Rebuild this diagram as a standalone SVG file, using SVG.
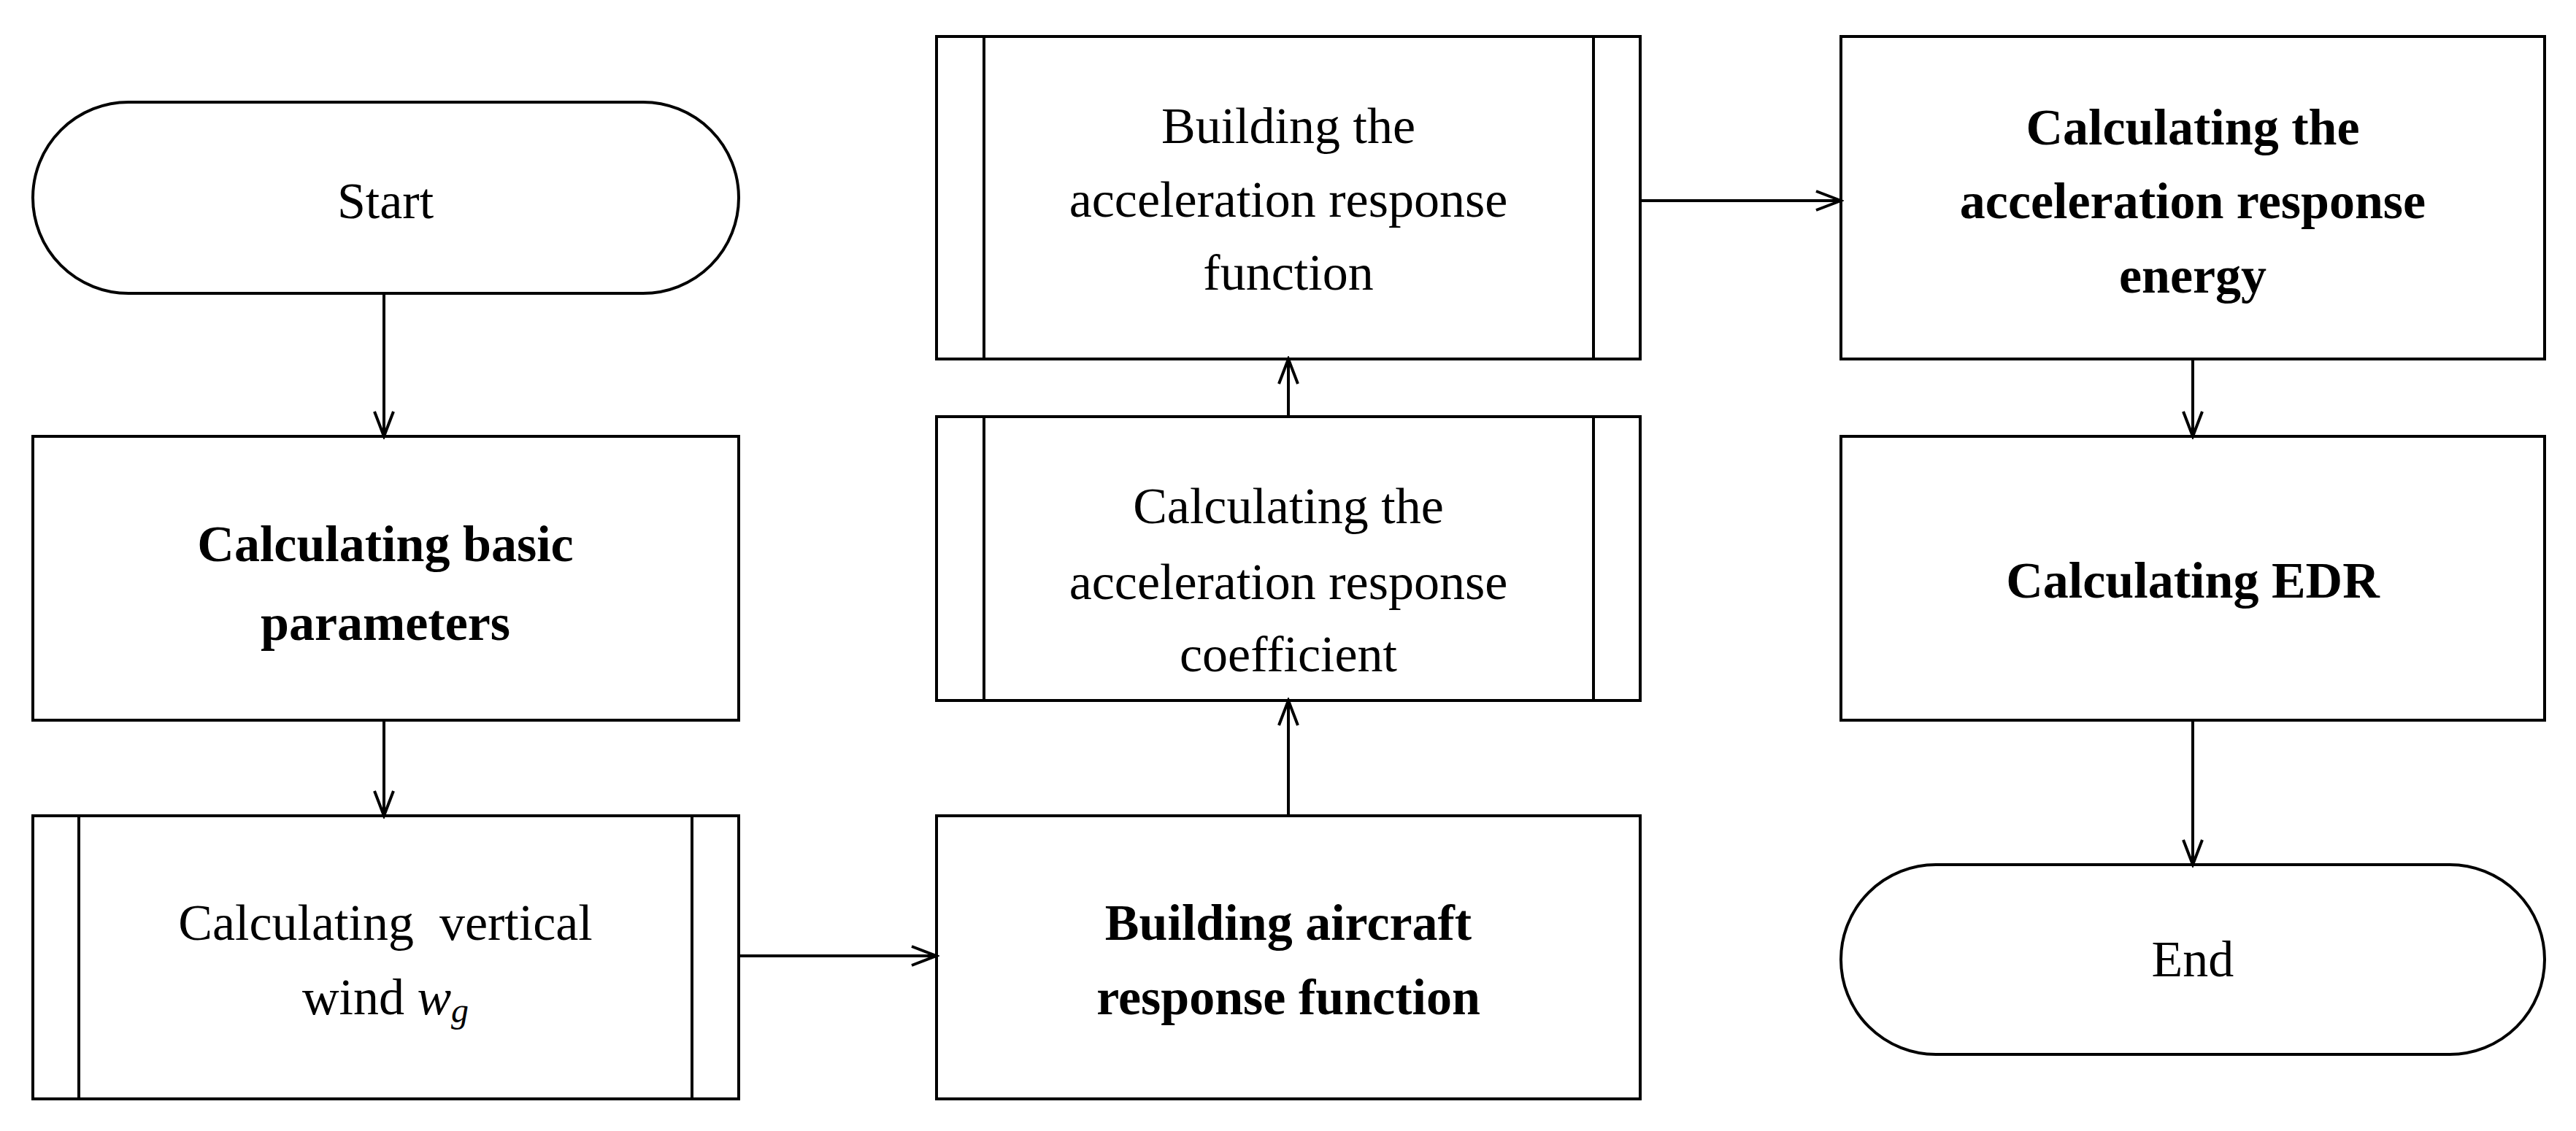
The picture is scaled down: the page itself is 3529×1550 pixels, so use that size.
<svg xmlns="http://www.w3.org/2000/svg" width="3529" height="1550" viewBox="0 0 3529 1550">
<style>
.s{fill:#fff;stroke:#000;stroke-width:4}
.l{stroke:#000;stroke-width:4;fill:none}
text{font-family:"Liberation Serif","Times New Roman",serif;font-size:70px;text-anchor:middle;dominant-baseline:central;fill:#000}
.b{font-weight:bold}
</style>
<defs><marker id="a" markerWidth="40" markerHeight="30" refX="36" refY="15" orient="auto" markerUnits="userSpaceOnUse"><path d="M2,2 L36,15 L2,28" fill="none" stroke="#000" stroke-width="4"/></marker></defs>
<g id="start"><rect class="s" x="45" y="140" width="967" height="262" rx="131"/><text x="528" y="275">Start</text></g>
<g id="basic"><rect class="s" x="45" y="598" width="967" height="389"/><text class="b" x="528" y="745">Calculating basic</text><text class="b" x="528" y="853">parameters</text></g>
<g id="wind"><rect class="s" x="45" y="1118" width="967" height="388"/><line class="l" x1="108" y1="1118" x2="108" y2="1506"/><line class="l" x1="948" y1="1118" x2="948" y2="1506"/><text x="528" y="1264" xml:space="preserve">Calculating  vertical</text><text x="528" y="1366">wind <tspan font-style="italic">w</tspan><tspan font-style="italic" font-size="48" dy="18">g</tspan></text></g>
<g id="aircraft"><rect class="s" x="1283" y="1118" width="964" height="388"/><text class="b" x="1765" y="1264">Building aircraft</text><text class="b" x="1765" y="1366">response function</text></g>
<g id="coeff"><rect class="s" x="1283" y="571" width="964" height="389"/><line class="l" x1="1348" y1="571" x2="1348" y2="960"/><line class="l" x1="2183" y1="571" x2="2183" y2="960"/><text x="1765" y="693">Calculating the</text><text x="1765" y="797">acceleration response</text><text x="1765" y="896">coefficient</text></g>
<g id="func"><rect class="s" x="1283" y="50" width="964" height="442"/><line class="l" x1="1348" y1="50" x2="1348" y2="492"/><line class="l" x1="2183" y1="50" x2="2183" y2="492"/><text x="1765" y="172">Building the</text><text x="1765" y="273">acceleration response</text><text x="1765" y="373">function</text></g>
<g id="energy"><rect class="s" x="2522" y="50" width="964" height="442"/><text class="b" x="3004" y="174">Calculating the</text><text class="b" x="3004" y="275">acceleration response</text><text class="b" x="3004" y="377">energy</text></g>
<g id="edr"><rect class="s" x="2522" y="598" width="964" height="389"/><text class="b" x="3004" y="795">Calculating EDR</text></g>
<g id="end"><rect class="s" x="2522" y="1185" width="964" height="260" rx="130"/><text x="3004" y="1314">End</text></g>
<g id="connectors">
<line class="l" x1="526" y1="402" x2="526" y2="598" marker-end="url(#a)"/>
<line class="l" x1="526" y1="987" x2="526" y2="1118" marker-end="url(#a)"/>
<line class="l" x1="1012" y1="1310" x2="1283" y2="1310" marker-end="url(#a)"/>
<line class="l" x1="1765" y1="1118" x2="1765" y2="960" marker-end="url(#a)"/>
<line class="l" x1="1765" y1="571" x2="1765" y2="492" marker-end="url(#a)"/>
<line class="l" x1="2247" y1="275" x2="2522" y2="275" marker-end="url(#a)"/>
<line class="l" x1="3004" y1="492" x2="3004" y2="598" marker-end="url(#a)"/>
<line class="l" x1="3004" y1="987" x2="3004" y2="1185" marker-end="url(#a)"/>
</g>
</svg>
